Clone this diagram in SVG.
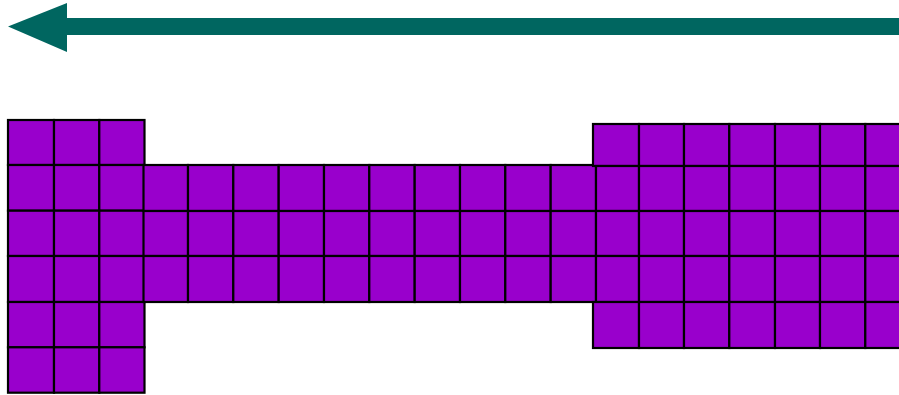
<svg xmlns="http://www.w3.org/2000/svg" width="899" height="395" viewBox="0 0 899 395">
<style>
.c{fill:#9900cc;stroke:#000;stroke-width:2.2}
.a{fill:#006660}
</style>
<rect width="899" height="395" fill="#fff"/>
<g id="arrow">
<rect class="a" x="64" y="18" width="840" height="17"/>
<polygon class="a" points="8,26.5 67,3 67,52"/>
</g>
<g id="left-block">
<rect class="c" x="8" y="120" width="46" height="45"/><rect class="c" x="54" y="120" width="45.3" height="45"/><rect class="c" x="99.3" y="120" width="45.2" height="45"/>
<rect class="c" x="8" y="165" width="46" height="45.7"/><rect class="c" x="54" y="165" width="45.3" height="45.7"/><rect class="c" x="99.3" y="165" width="45.2" height="45.7"/>
<rect class="c" x="8" y="210.7" width="46" height="45.3"/><rect class="c" x="54" y="210.7" width="45.3" height="45.3"/><rect class="c" x="99.3" y="210.7" width="45.2" height="45.3"/>
<rect class="c" x="8" y="256" width="46" height="46"/><rect class="c" x="54" y="256" width="45.3" height="46"/><rect class="c" x="99.3" y="256" width="45.2" height="46"/>
<rect class="c" x="8" y="302" width="46" height="45.3"/><rect class="c" x="54" y="302" width="45.3" height="45.3"/><rect class="c" x="99.3" y="302" width="45.2" height="45.3"/>
<rect class="c" x="8" y="347.3" width="46" height="45.4"/><rect class="c" x="54" y="347.3" width="45.3" height="45.4"/><rect class="c" x="99.3" y="347.3" width="45.2" height="45.4"/>
</g>
<g id="middle-strip">
<rect class="c" x="143.5" y="165" width="44.5" height="46"/><rect class="c" x="188" y="165" width="45.3" height="46"/><rect class="c" x="233.3" y="165" width="45.4" height="46"/><rect class="c" x="278.7" y="165" width="45.3" height="46"/><rect class="c" x="324" y="165" width="45.3" height="46"/><rect class="c" x="369.3" y="165" width="45.4" height="46"/><rect class="c" x="414.7" y="165" width="45.3" height="46"/><rect class="c" x="460" y="165" width="45.3" height="46"/><rect class="c" x="505.3" y="165" width="45.4" height="46"/><rect class="c" x="550.7" y="165" width="45.3" height="46"/>
<rect class="c" x="143.5" y="211" width="44.5" height="45"/><rect class="c" x="188" y="211" width="45.3" height="45"/><rect class="c" x="233.3" y="211" width="45.4" height="45"/><rect class="c" x="278.7" y="211" width="45.3" height="45"/><rect class="c" x="324" y="211" width="45.3" height="45"/><rect class="c" x="369.3" y="211" width="45.4" height="45"/><rect class="c" x="414.7" y="211" width="45.3" height="45"/><rect class="c" x="460" y="211" width="45.3" height="45"/><rect class="c" x="505.3" y="211" width="45.4" height="45"/><rect class="c" x="550.7" y="211" width="45.3" height="45"/>
<rect class="c" x="143.5" y="256" width="44.5" height="46"/><rect class="c" x="188" y="256" width="45.3" height="46"/><rect class="c" x="233.3" y="256" width="45.4" height="46"/><rect class="c" x="278.7" y="256" width="45.3" height="46"/><rect class="c" x="324" y="256" width="45.3" height="46"/><rect class="c" x="369.3" y="256" width="45.4" height="46"/><rect class="c" x="414.7" y="256" width="45.3" height="46"/><rect class="c" x="460" y="256" width="45.3" height="46"/><rect class="c" x="505.3" y="256" width="45.4" height="46"/><rect class="c" x="550.7" y="256" width="45.3" height="46"/>
</g>
<g id="right-block">
<rect class="c" x="593" y="124" width="46" height="42"/><rect class="c" x="639" y="124" width="45" height="42"/><rect class="c" x="684" y="124" width="45.3" height="42"/><rect class="c" x="729.3" y="124" width="45.7" height="42"/><rect class="c" x="775" y="124" width="45" height="42"/><rect class="c" x="820" y="124" width="45.3" height="42"/><rect class="c" x="865.3" y="124" width="45.3" height="42"/>
<rect class="c" x="596" y="166" width="43" height="45"/><rect class="c" x="639" y="166" width="45" height="45"/><rect class="c" x="684" y="166" width="45.3" height="45"/><rect class="c" x="729.3" y="166" width="45.7" height="45"/><rect class="c" x="775" y="166" width="45" height="45"/><rect class="c" x="820" y="166" width="45.3" height="45"/><rect class="c" x="865.3" y="166" width="45.3" height="45"/>
<rect class="c" x="596" y="211" width="43" height="45"/><rect class="c" x="639" y="211" width="45" height="45"/><rect class="c" x="684" y="211" width="45.3" height="45"/><rect class="c" x="729.3" y="211" width="45.7" height="45"/><rect class="c" x="775" y="211" width="45" height="45"/><rect class="c" x="820" y="211" width="45.3" height="45"/><rect class="c" x="865.3" y="211" width="45.3" height="45"/>
<rect class="c" x="596" y="256" width="43" height="46"/><rect class="c" x="639" y="256" width="45" height="46"/><rect class="c" x="684" y="256" width="45.3" height="46"/><rect class="c" x="729.3" y="256" width="45.7" height="46"/><rect class="c" x="775" y="256" width="45" height="46"/><rect class="c" x="820" y="256" width="45.3" height="46"/><rect class="c" x="865.3" y="256" width="45.3" height="46"/>
<rect class="c" x="593" y="302" width="46" height="46"/><rect class="c" x="639" y="302" width="45" height="46"/><rect class="c" x="684" y="302" width="45.3" height="46"/><rect class="c" x="729.3" y="302" width="45.7" height="46"/><rect class="c" x="775" y="302" width="45" height="46"/><rect class="c" x="820" y="302" width="45.3" height="46"/><rect class="c" x="865.3" y="302" width="45.3" height="46"/>
</g>
</svg>
